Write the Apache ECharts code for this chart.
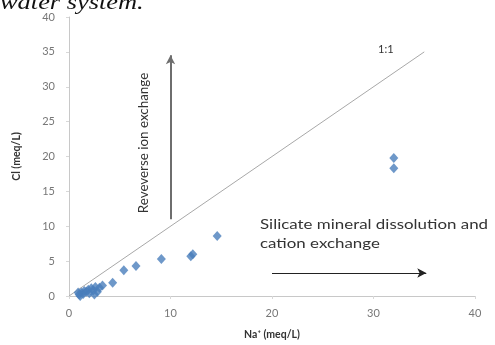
<!DOCTYPE html>
<html><head><meta charset="utf-8">
<script src="https://cdn.jsdelivr.net/npm/echarts@6/dist/echarts.min.js"></script>
<style>html,body{margin:0;padding:0;background:#fff}#c{width:495px;height:345px}</style>
</head><body><div id="c"></div>
<script>
const naValues = [1.0,1.2,1.4,1.5,1.7,1.9,2.0,2.2,2.4,2.6,2.8,3.0,3.3,1.1,2.5,0.9,4.3,5.4,6.6,9.1,12.0,12.2,14.6,32,32];
const clValues = [0.2,0.5,0.3,0.7,0.6,0.9,0.4,1.1,0.8,1.3,0.6,1.2,1.5,0.0,0.2,0.5,1.9,3.7,4.3,5.3,5.7,6.0,8.6,19.8,18.3];
const oneToOneX = [0,35];
const oneToOneY = [0,35];
const xTicks = [0,10,20,30,40];
const yTicks = [0,5,10,15,20,25,30,35,40];
const reverseArrow = [[10,11],[10,34.5]];
const silicateArrow = [[20,3.3],[35.2,3.3]];

const font = 'Lato, "Open Sans", sans-serif';
const chart = echarts.init(document.getElementById('c'));
chart.setOption({
  animation:false,
  grid:{left:69,right:20,top:17,bottom:48},
  xAxis:{type:'value',min:xTicks[0],max:xTicks[xTicks.length-1],interval:10,
    name:'Na\u207A (meq/L)',nameLocation:'middle',nameGap:33,
    nameTextStyle:{fontFamily:font,fontSize:10.5,fontWeight:'bold',color:'#333'},
    axisLine:{lineStyle:{color:'#c8c8c8'}},axisTick:{show:true,lineStyle:{color:'#d8d8d8'},length:3},
    axisLabel:{fontFamily:font,fontSize:11,color:'#777',margin:12},splitLine:{show:false}},
  yAxis:{type:'value',min:yTicks[0],max:yTicks[yTicks.length-1],interval:5,
    name:'Cl (meq/L)',nameLocation:'middle',nameGap:47,
    nameTextStyle:{fontFamily:font,fontSize:10.5,fontWeight:'bold',color:'#333'},
    axisLine:{show:true,lineStyle:{color:'#c8c8c8'}},axisTick:{show:true,lineStyle:{color:'#d8d8d8'},length:3},
    axisLabel:{fontFamily:font,fontSize:11,color:'#777',margin:14},splitLine:{show:false}},
  series:[
    {type:'line',data:oneToOneX.map((x,i)=>[x,oneToOneY[i]]),symbol:'none',
     lineStyle:{color:'#a8a8a8',width:1},z:1,silent:true,
     markLine:{silent:true,symbol:['none','arrow'],symbolSize:[7,9],label:{show:false},
       data:[
         [{coord:reverseArrow[0],lineStyle:{color:'#6e6e6e',width:2,type:'solid'}},{coord:reverseArrow[1]}],
         [{coord:silicateArrow[0],lineStyle:{color:'#222',width:1.2,type:'solid'}},{coord:silicateArrow[1]}]
       ]}},
    {type:'scatter',data:naValues.map((x,i)=>[x,clValues[i]]),symbol:'diamond',symbolSize:[9,10],
     itemStyle:{color:'#4a7ebb'},z:3}
  ],
  graphic:[
    {type:'text',x:0,y:-8,scaleX:1.2,style:{text:'water system.',font:'italic 22px "Liberation Serif", "DejaVu Serif", serif',fill:'#111'}},
    {type:'text',x:378,y:44,style:{text:'1:1',font:'11px '+font,fill:'#333'}},
    {type:'text',x:260,y:215,scaleX:1.3,style:{text:'Silicate mineral dissolution and\ncation exchange',font:'13px '+font,fill:'#333',lineHeight:19}},
    {type:'text',x:144,y:143,rotation:Math.PI/2,scaleX:1.03,style:{text:'Reveverse ion exchange',font:'13px '+font,fill:'#333',align:'center',verticalAlign:'middle'}}
  ]
});
</script></body></html>
